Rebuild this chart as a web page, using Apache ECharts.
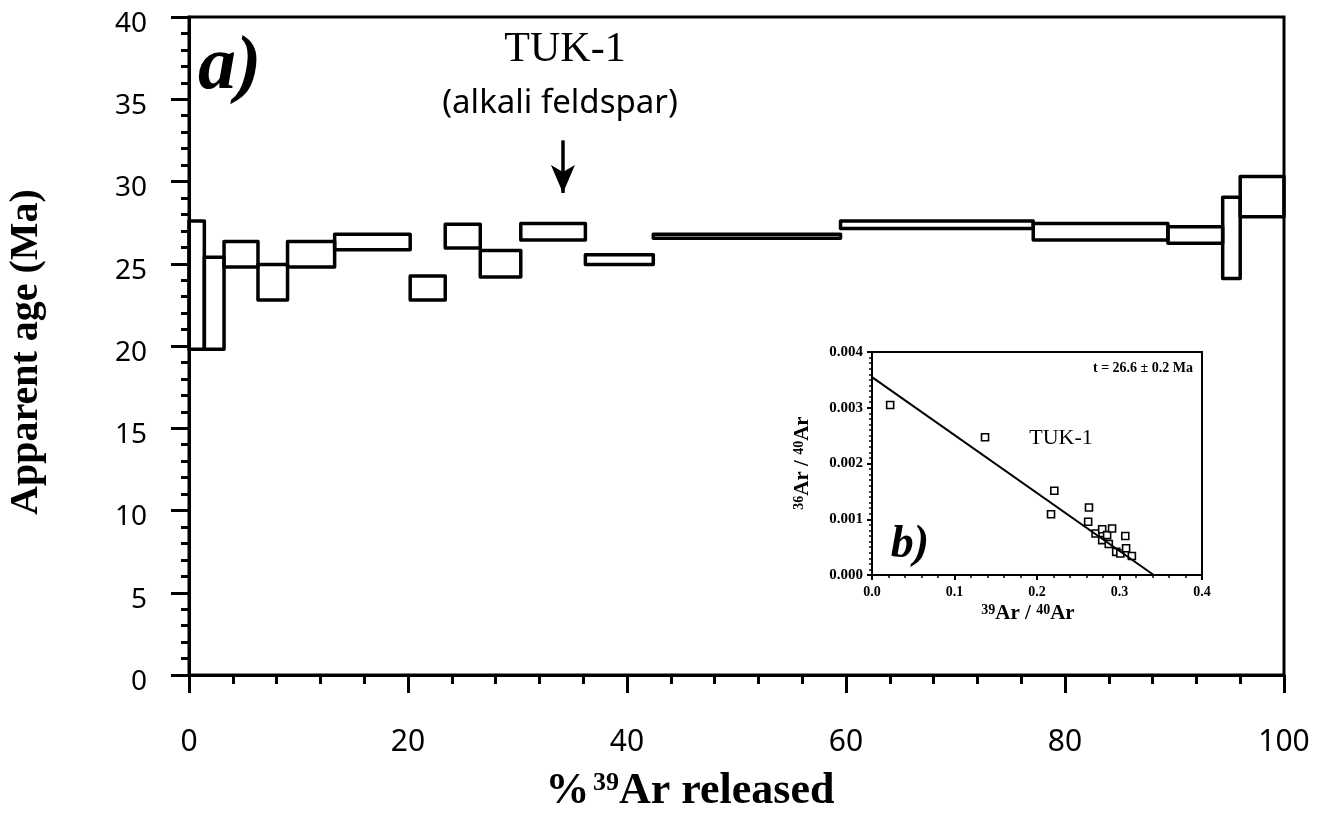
<!DOCTYPE html>
<html>
<head>
<meta charset="utf-8">
<script src="https://cdn.jsdelivr.net/npm/echarts@6/dist/echarts.min.js"></script>
<style>
html,body{margin:0;padding:0;background:#fff;}
#c{width:1319px;height:819px;}
</style>
</head>
<body>
<div id="c"></div>
<script>
// ---- Data: age spectrum (% 39Ar released vs apparent age, Ma) ----
const stepEdges = [0, 1.4, 3.2, 6.3, 9.0, 13.3, 20.2, 23.4, 26.6, 30.3, 36.2, 42.4, 59.5, 77.1, 89.4, 94.4, 96.0, 100];
const ageUpper  = [27.6, 25.4, 26.35, 24.95, 26.35, 26.8, 24.25, 27.4, 25.8, 27.45, 25.55, 26.8, 27.6, 27.45, 27.25, 29.05, 30.3];
const ageLower  = [19.8, 19.8, 24.8, 22.8, 24.8, 25.85, 22.8, 25.95, 24.2, 26.45, 24.95, 26.55, 27.15, 26.45, 26.25, 24.1, 27.85];
const xTicks = [0, 20, 40, 60, 80, 100];
const yTicks = [0, 5, 10, 15, 20, 25, 30, 35, 40];
const arrowX = 34.15, arrowTop = 32.5, arrowTip = 29.3;

// ---- Data: inverse isochron inset (39Ar/40Ar vs 36Ar/40Ar) ----
const isoX = [0.022, 0.137, 0.221, 0.217, 0.263, 0.262, 0.271, 0.279, 0.279, 0.285, 0.291, 0.287, 0.296, 0.301, 0.307, 0.308, 0.315];
const isoY = [0.00305, 0.00247, 0.00151, 0.00109, 0.00121, 0.000955, 0.000745, 0.00082, 0.000625, 0.000715, 0.000835, 0.000555, 0.000415, 0.000385, 0.0007, 0.00048, 0.00034];
const fitX = [0, 0.3415];
const fitY = [0.00355, 0];
const insetXTicks = [0.0, 0.1, 0.2, 0.3, 0.4];
const insetYTicks = [0.000, 0.001, 0.002, 0.003, 0.004];

const boxes = ageUpper.map((u, i) => [stepEdges[i], stepEdges[i + 1], ageLower[i], u]);
const isoPts = isoX.map((x, i) => [x, isoY[i]]);
const fitPts = fitX.map((x, i) => [x, fitY[i]]);

const tickFont = '"Noto Sans", sans-serif';
const serif = '"Liberation Serif", "Times New Roman", serif';

const chart = echarts.init(document.getElementById('c'), null, {renderer: 'canvas'});
chart.setOption({
  animation: false,
  backgroundColor: '#fff',
  grid: [
    {left: 189, top: 17, width: 1095, height: 658, show: true, borderColor: '#000', borderWidth: 3,
      backgroundColor: 'transparent', containLabel: false, outerBoundsMode: 'none'},
    {left: 872, top: 352, width: 330, height: 223, show: true, borderColor: '#000', borderWidth: 2,
      backgroundColor: 'transparent', containLabel: false, outerBoundsMode: 'none'}
  ],
  xAxis: [
    {
      gridIndex: 0, type: 'value', min: xTicks[0], max: xTicks[xTicks.length - 1], interval: 20,
      axisLine: {lineStyle: {color: '#000', width: 3}},
      axisTick: {inside: false, length: 18, lineStyle: {color: '#000', width: 3}},
      minorTick: {show: true, splitNumber: 5, length: 9, lineStyle: {color: '#000', width: 3}},
      splitLine: {show: false},
      axisLabel: {color: '#000', fontFamily: tickFont, fontSize: 30, margin: 52}
    },
    {
      gridIndex: 1, type: 'value', min: insetXTicks[0], max: insetXTicks[insetXTicks.length - 1], interval: 0.1,
      axisLine: {lineStyle: {color: '#000', width: 2}},
      axisTick: {inside: false, length: 5, lineStyle: {color: '#000', width: 2}},
      minorTick: {show: true, splitNumber: 5, length: 3, lineStyle: {color: '#000', width: 1.5}},
      splitLine: {show: false},
      axisLabel: {color: '#000', fontFamily: serif, fontWeight: 'bold', fontSize: 14, margin: 10,
        formatter: v => v.toFixed(1)}
    }
  ],
  yAxis: [
    {
      gridIndex: 0, type: 'value', min: yTicks[0], max: yTicks[yTicks.length - 1], interval: 5,
      axisLine: {lineStyle: {color: '#000', width: 3}},
      axisTick: {inside: false, length: 18, lineStyle: {color: '#000', width: 3}},
      minorTick: {show: true, splitNumber: 5, length: 8, lineStyle: {color: '#000', width: 3}},
      splitLine: {show: false},
      axisLabel: {color: '#000', margin: 42,
        formatter: v => '{v|' + v + '}',
        rich: {v: {fontFamily: tickFont, fontSize: 28, lineHeight: 28, padding: [14, 0, 0, 0], color: '#000'}}}
    },
    {
      gridIndex: 1, type: 'value', min: insetYTicks[0], max: insetYTicks[insetYTicks.length - 1], interval: 0.001,
      axisLine: {lineStyle: {color: '#000', width: 2}},
      axisTick: {inside: false, length: 5, lineStyle: {color: '#000', width: 2}},
      minorTick: {show: true, splitNumber: 10, length: 3, lineStyle: {color: '#000', width: 1.5}},
      splitLine: {show: false},
      axisLabel: {color: '#000', fontFamily: serif, fontWeight: 'bold', fontSize: 15, margin: 9,
        formatter: v => v.toFixed(3)}
    }
  ],
  series: [
    {
      type: 'custom', xAxisIndex: 0, yAxisIndex: 0, clip: false,
      data: boxes,
      encode: {x: [0, 1], y: [2, 3]},
      renderItem: function (params, api) {
        const p0 = api.coord([api.value(0), api.value(3)]);
        const p1 = api.coord([api.value(1), api.value(2)]);
        return {
          type: 'rect',
          shape: {x: p0[0], y: p0[1], width: p1[0] - p0[0], height: p1[1] - p0[1]},
          style: {fill: null, stroke: '#000', lineWidth: 3.5, lineJoin: 'round'}
        };
      }
    },
    {
      type: 'line', xAxisIndex: 0, yAxisIndex: 0, data: [], silent: true,
      markLine: {
        silent: true, symbol: ['none', 'arrow'], symbolSize: [18, 28], label: {show: false},
        lineStyle: {color: '#000', width: 3.5, type: 'solid'},
        data: [[{coord: [arrowX, arrowTop]}, {coord: [arrowX, arrowTip]}]]
      }
    },
    {
      type: 'line', xAxisIndex: 1, yAxisIndex: 1, data: fitPts, showSymbol: false, silent: true,
      lineStyle: {color: '#000', width: 2}
    },
    {
      type: 'scatter', xAxisIndex: 1, yAxisIndex: 1, data: isoPts, symbol: 'rect', symbolSize: 7,
      itemStyle: {color: '#fff', borderColor: '#000', borderWidth: 1.6, opacity: 1}
    }
  ],
  graphic: [
    {type: 'text', left: 198, top: 30, style: {text: 'a)', font: 'italic bold 76px ' + serif, fill: '#000'}},
    {type: 'text', x: 565, y: 50, style: {text: 'TUK-1', font: '42px ' + serif, fill: '#000', textAlign: 'center', textVerticalAlign: 'middle'}},
    {type: 'text', x: 560, y: 104, style: {text: '(alkali feldspar)', font: '33px ' + tickFont, fill: '#000', textAlign: 'center', textVerticalAlign: 'middle'}},
    {type: 'text', x: 27, y: 352, rotation: Math.PI / 2,
      style: {text: 'Apparent age (Ma)', font: 'bold 40px ' + serif, fill: '#000', textAlign: 'center', textVerticalAlign: 'middle'}},
    {type: 'text', x: 690, y: 792,
      style: {text: '{a|%} {s|39}{a|Ar released}', textAlign: 'center', textVerticalAlign: 'middle', fill: '#000',
        rich: {
          a: {font: 'bold 44px ' + serif, lineHeight: 44, verticalAlign: 'bottom'},
          s: {font: 'bold 26px ' + serif, lineHeight: 26, verticalAlign: 'top', padding: [0, 0, 46, 0]}
        }}},
    {type: 'text', x: 1143, y: 368, style: {text: 't = 26.6 \u00b1 0.2 Ma', font: 'bold 14px ' + serif, fill: '#000', textAlign: 'center', textVerticalAlign: 'middle'}},
    {type: 'text', x: 1061, y: 438, style: {text: 'TUK-1', font: '22px ' + serif, fill: '#000', textAlign: 'center', textVerticalAlign: 'middle'}},
    {type: 'text', x: 910, y: 545, style: {text: 'b)', font: 'italic bold 46px ' + serif, fill: '#000', textAlign: 'center', textVerticalAlign: 'middle'}},
    {type: 'text', x: 1028, y: 614,
      style: {text: '{s|39}{a|Ar / }{s|40}{a|Ar}', textAlign: 'center', textVerticalAlign: 'middle', fill: '#000',
        rich: {
          a: {font: 'bold 21px ' + serif, lineHeight: 21, verticalAlign: 'bottom'},
          s: {font: 'bold 14px ' + serif, lineHeight: 14, verticalAlign: 'top', padding: [0, 0, 18, 0]}
        }}},
    {type: 'text', x: 803, y: 463, rotation: Math.PI / 2,
      style: {text: '{s|36}{a|Ar / }{s|40}{a|Ar}', textAlign: 'center', textVerticalAlign: 'middle', fill: '#000',
        rich: {
          a: {font: 'bold 21px ' + serif, lineHeight: 21, verticalAlign: 'bottom'},
          s: {font: 'bold 14px ' + serif, lineHeight: 14, verticalAlign: 'top', padding: [0, 0, 18, 0]}
        }}}
  ]
});
</script>
</body>
</html>
